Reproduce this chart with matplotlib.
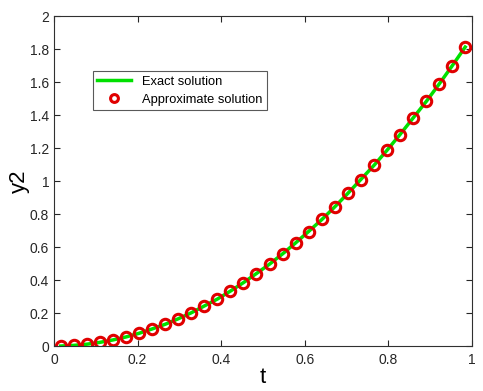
import matplotlib
matplotlib.use('Agg')
import matplotlib.pyplot as plt

plt.rcParams['font.family'] = ['Liberation Sans', 'DejaVu Sans']

# sample times and y2 values
t = [0.016, 0.047, 0.078, 0.109, 0.141, 0.172, 0.203, 0.234,
     0.266, 0.297, 0.328, 0.359, 0.391, 0.422, 0.453, 0.484,
     0.516, 0.547, 0.578, 0.609, 0.641, 0.672, 0.703, 0.734,
     0.766, 0.797, 0.828, 0.859, 0.891, 0.922, 0.953, 0.984]
y_exact = [0.000, 0.004, 0.011, 0.022, 0.037, 0.055, 0.077, 0.103,
           0.132, 0.165, 0.201, 0.242, 0.285, 0.333, 0.384, 0.439,
           0.497, 0.559, 0.625, 0.694, 0.767, 0.844, 0.925, 1.009,
           1.096, 1.187, 1.282, 1.381, 1.483, 1.589, 1.699, 1.812]
y_approx = y_exact

xticks = [0, 0.2, 0.4, 0.6, 0.8, 1]
yticks = [0, 0.2, 0.4, 0.6, 0.8, 1, 1.2, 1.4, 1.6, 1.8, 2]

fig = plt.figure(figsize=(4.83, 3.91), dpi=100)
ax = fig.add_axes([0.112, 0.115, 0.865, 0.844])

ax.plot(t, y_exact, color='#00e000', lw=2.5, label='Exact solution')
ax.plot(t, y_approx, 'o', ms=7.5, mfc='none', mec='#e00000', mew=2.2,
        label='Approximate solution')

ax.set_xlim(0, 1)
ax.set_ylim(0, 2)
ax.set_xticks(xticks)
ax.set_xticklabels(['0', '0.2', '0.4', '0.6', '0.8', '1'])
ax.set_yticks(yticks)
ax.set_yticklabels(['0', '0.2', '0.4', '0.6', '0.8', '1', '1.2', '1.4', '1.6', '1.8', '2'])
ax.tick_params(direction='in', top=True, right=True, labelsize=10,
               colors='#262626', length=4)
ax.tick_params(axis='x', pad=5)
for s in ax.spines.values():
    s.set_color('#303030')

ax.set_xlabel('t', fontsize=16, labelpad=0)
ax.set_ylabel('y2', fontsize=16, labelpad=0)

leg = ax.legend(loc='upper left', bbox_to_anchor=(0.092, 0.833), fontsize=9.3,
                frameon=True, fancybox=False, edgecolor='#303030',
                borderpad=0.35, labelspacing=0.45, handlelength=2.6,
                handletextpad=0.9, markerscale=0.75, borderaxespad=0)
leg.get_frame().set_linewidth(0.8)

fig.savefig('out.png', dpi=100)
